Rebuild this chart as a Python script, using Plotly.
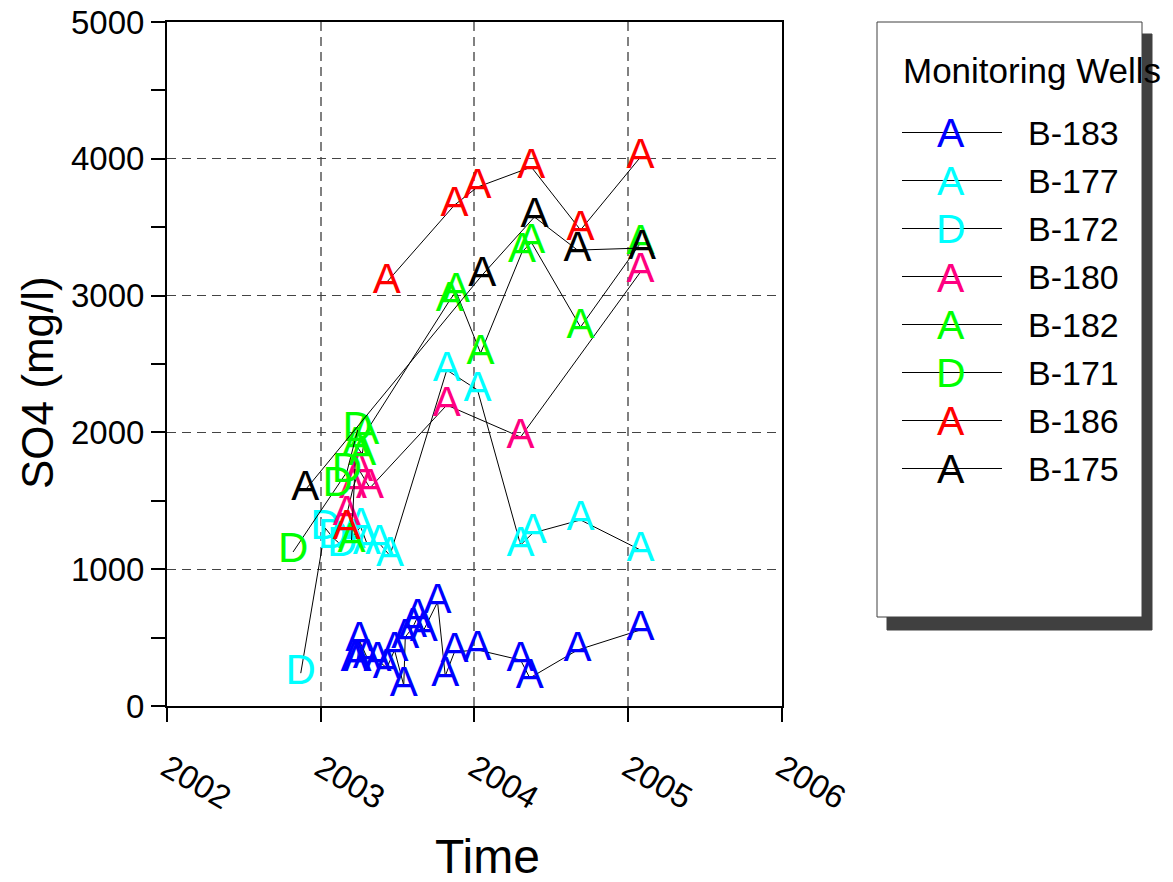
import plotly.graph_objects as go

# ---------------- data (decimal years, SO4 mg/l) ----------------
wells = ["B-183", "B-177", "B-172", "B-180", "B-182", "B-171", "B-186", "B-175"]
symbols = ["A", "A", "D", "A", "A", "D", "A", "A"]
colors = ["#0000FF", "#00FFFF", "#00FFFF", "#FF0080", "#00FF00", "#00FF00", "#FF0000", "#000000"]

b183_x = [2003.22, 2003.24, 2003.25, 2003.30, 2003.37, 2003.43, 2003.48, 2003.54, 2003.55, 2003.60,
          2003.63, 2003.67, 2003.76, 2003.81, 2003.87, 2004.02, 2004.30, 2004.36, 2004.67, 2005.08]
b183_y = [330, 336, 482, 358, 336, 278, 409, 150, 504, 578,
          650, 555, 760, 220, 395, 410, 336, 205, 409, 556]

b177_x = [2003.20, 2003.26, 2003.30, 2003.38, 2003.45, 2003.82, 2004.02, 2004.30, 2004.38, 2004.69, 2005.08]
b177_y = [1230, 1310, 1190, 1190, 1100, 2456, 2310, 1177, 1265, 1360, 1140]

b172_x = [2002.87, 2003.03, 2003.08, 2003.14]
b172_y = [240, 1300, 1230, 1170]

b180_x = [2003.17, 2003.21, 2003.25, 2003.32, 2003.82, 2004.30, 2005.08]
b180_y = [1400, 1594, 1725, 1594, 2200, 1966, 3173]

b182_x = [2003.20, 2003.23, 2003.27, 2003.29, 2003.84, 2003.88, 2004.04, 2004.31, 2004.37, 2004.69, 2005.08]
b182_y = [1200, 1908, 1840, 1995, 2968, 3030, 2580, 3320, 3390, 2770, 3384]

b171_x = [2002.82, 2003.11, 2003.17, 2003.24]
b171_y = [1126, 1615, 1711, 2017]

b186_x = [2003.17, None, 2003.43, 2003.87, 2004.02, 2004.37, 2004.69, 2005.08]
b186_y = [1300, None, 3099, 3662, 3794, 3940, 3480, 4013]

b175_x = [2002.90, 2004.05, 2004.39, 2004.67, 2005.09]
b175_y = [1580, 3150, 3575, 3333, 3348]

series_x = [b183_x, b177_x, b172_x, b180_x, b182_x, b171_x, b186_x, b175_x]
series_y = [b183_y, b177_y, b172_y, b180_y, b182_y, b171_y, b186_y, b175_y]

x_ticks = [2002, 2003, 2004, 2005, 2006]
y_ticks = [0, 1000, 2000, 3000, 4000, 5000]

FONT = "Liberation Sans, Arial, sans-serif"
OFF = 8                      # page body margin
W, H = 1173 - OFF, 882 - OFF
# plot area in window pixels
L, R, T, B = 167, 782, 22, 706


def px(xp):
    return (xp - L) / (R - L)


def py(yp):
    return (B - yp) / (B - T)


fig = go.Figure()
for name, sym, col, xs, ys in zip(wells, symbols, colors, series_x, series_y):
    fig.add_trace(go.Scatter(
        x=xs, y=ys, name=name, mode="lines+text",
        text=[sym if v is not None else "" for v in xs],
        textposition="middle center",
        textfont=dict(family=FONT, size=42, color=col),
        line=dict(color="black", width=1),
        connectgaps=False, showlegend=False, cliponaxis=False,
        hoverinfo="x+y+name",
    ))

shapes = []
annotations = []

# legend box with shadow
shapes.append(dict(type="rect", xref="paper", yref="paper",
                   x0=px(887), x1=px(1152), y0=py(630), y1=py(34),
                   fillcolor="#404040", line=dict(color="#404040", width=1), layer="above"))
shapes.append(dict(type="rect", xref="paper", yref="paper",
                   x0=px(877), x1=px(1142), y0=py(617), y1=py(22),
                   fillcolor="white", line=dict(color="#404040", width=1), layer="above"))
annotations.append(dict(xref="paper", yref="paper", x=px(901), y=py(70), xanchor="left", yanchor="middle",
                        text="Monitoring Wells", showarrow=False,
                        font=dict(family=FONT, size=35, color="black")))
for i, (name, sym, col) in enumerate(zip(wells, symbols, colors)):
    yc = 132.5 + 48 * i
    shapes.append(dict(type="line", xref="paper", yref="paper",
                       x0=px(902), x1=px(1002), y0=py(yc), y1=py(yc),
                       line=dict(color="black", width=1), layer="above"))
    annotations.append(dict(xref="paper", yref="paper", x=px(951), y=py(yc + 1), xanchor="center",
                            yanchor="middle", text=sym, showarrow=False,
                            font=dict(family=FONT, size=41, color=col)))
    annotations.append(dict(xref="paper", yref="paper", x=px(1026), y=py(yc), xanchor="left",
                            yanchor="middle", text=name, showarrow=False,
                            font=dict(family=FONT, size=34, color="black")))

# axis titles
annotations.append(dict(xref="paper", yref="paper", x=px(487), y=py(856), xanchor="center", yanchor="middle",
                        text="Time", showarrow=False, font=dict(family=FONT, size=48, color="black")))
annotations.append(dict(xref="paper", yref="paper", x=px(37), y=py(383), xanchor="center", yanchor="middle",
                        text="SO4 (mg/l)", textangle=-90, showarrow=False,
                        font=dict(family=FONT, size=44, color="black")))

fig.update_layout(
    width=W, height=H,
    margin=dict(l=L - OFF, r=W - (R - OFF), t=T - OFF, b=H - (B - OFF), pad=0, autoexpand=False),
    paper_bgcolor="white", plot_bgcolor="white",
    font=dict(family=FONT, color="black"),
    shapes=shapes, annotations=annotations,
    showlegend=False,
)
fig.update_xaxes(
    range=[2002, 2006.0005], tickmode="array", tickvals=x_ticks, ticktext=[str(v) for v in x_ticks],
    tickangle=30, tickfont=dict(family=FONT, size=33, color="black"),
    ticks="outside", ticklen=14, tickwidth=1.5, tickcolor="black",
    showline=True, linewidth=2, linecolor="black", mirror=True,
    showgrid=True, gridcolor="#808080", gridwidth=1.5, griddash="9px,6px",
    zeroline=False, ticklabelstandoff=14, automargin=False, ticklabeloverflow="allow",
)
fig.update_yaxes(
    range=[0, 5000.5], tickmode="array", tickvals=y_ticks, ticktext=[str(v) for v in y_ticks],
    tickfont=dict(family=FONT, size=33, color="black"),
    ticks="outside", ticklen=14, tickwidth=1.5, tickcolor="black",
    minor=dict(tickmode="array", tickvals=[500, 1500, 2500, 3500, 4500], ticks="outside",
               ticklen=14, tickwidth=1.5, tickcolor="black", showgrid=False),
    showline=True, linewidth=2, linecolor="black", mirror=True,
    showgrid=True, gridcolor="#444444", gridwidth=1.2, griddash="9px,6px",
    zeroline=False, automargin=False, ticklabeloverflow="allow",
)

fig.write_html("out.html")
